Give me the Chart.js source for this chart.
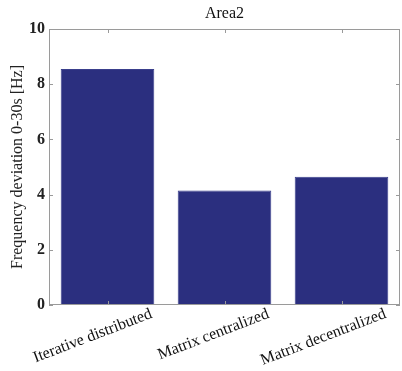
<!DOCTYPE html>
<html>
<head>
<meta charset="utf-8">
<script src="https://cdn.jsdelivr.net/npm/chart.js@4/dist/chart.umd.min.js"></script>
<style>
  html, body { margin: 0; padding: 0; background: #fff; }
  #wrap { width: 402px; height: 371px; }
</style>
</head>
<body>
<div id="wrap"><canvas id="c" width="402" height="371"></canvas></div>
<script>
// data
const categories = ['Iterative distributed', 'Matrix centralized', 'Matrix decentralized'];
const deviation = [8.55, 4.15, 4.65];
const yTicks = [0, 2, 4, 6, 8, 10];

const SERIF = '"Liberation Serif", "DejaVu Serif", serif';
const BOX = '#9a9a9a';

// MATLAB style box, inner ticks, rotated labels and title
const matlabAxes = {
  id: 'matlabAxes',
  afterDraw(chart) {
    const ctx = chart.ctx;
    const a = chart.chartArea;
    const x = chart.scales.x, y = chart.scales.y;
    ctx.save();
    ctx.strokeStyle = BOX;
    ctx.lineWidth = 1;
    ctx.strokeRect(a.left + 0.5, a.top + 0.5, a.right - a.left - 1, a.bottom - a.top - 1);

    ctx.beginPath();
    yTicks.forEach(v => {
      const py = Math.round(y.getPixelForValue(v)) + 0.5;
      ctx.moveTo(a.left, py); ctx.lineTo(a.left + 4, py);
      ctx.moveTo(a.right, py); ctx.lineTo(a.right - 4, py);
    });
    categories.forEach((c, i) => {
      const px = Math.round(x.getPixelForTick(i)) + 0.5;
      ctx.moveTo(px, a.top); ctx.lineTo(px, a.top + 4);
      ctx.moveTo(px, a.bottom); ctx.lineTo(px, a.bottom - 4);
    });
    ctx.stroke();

    // rotated category labels
    ctx.fillStyle = '#111';
    ctx.font = '16px ' + SERIF;
    ctx.textAlign = 'right';
    ctx.textBaseline = 'top';
    categories.forEach((c, i) => {
      const px = x.getPixelForTick(i) + 41;
      ctx.save();
      ctx.translate(px, a.bottom + 1);
      ctx.rotate(-21 * Math.PI / 180);
      ctx.fillText(c, 0, 0);
      ctx.restore();
    });

    // title
    ctx.textAlign = 'center';
    ctx.textBaseline = 'middle';
    ctx.font = '16px ' + SERIF;
    ctx.fillText('Area2', (a.left + a.right) / 2, 14);
    ctx.restore();
  }
};

new Chart(document.getElementById('c'), {
  type: 'bar',
  data: {
    labels: categories,
    datasets: [{
      data: deviation,
      backgroundColor: '#2b2f7f',
      borderColor: '#3a3f8c',
      borderWidth: 1,
      barPercentage: 0.8,
      categoryPercentage: 1.0
    }]
  },
  options: {
    responsive: false,
    animation: false,
    layout: { padding: { top: 29, right: 2, left: 8, bottom: 0 } },
    plugins: {
      legend: { display: false },
      tooltip: { enabled: false }
    },
    scales: {
      x: {
        grid: { display: false },
        border: { display: false },
        ticks: { display: false },
        afterFit(s) { s.height = 66; }
      },
      y: {
        min: 0,
        max: 10,
        afterBuildTicks(s) { s.ticks = yTicks.map(v => ({ value: v })); },
        grid: { display: false, drawTicks: false, tickLength: 0 },
        border: { display: false },
        ticks: {
          color: '#222',
          padding: 4,
          font: { family: SERIF, size: 16, weight: 'bold' }
        },
        title: {
          display: true,
          text: 'Frequency deviation 0-30s [Hz]',
          color: '#222',
          padding: { top: 0, bottom: 2 },
          font: { family: SERIF, size: 16 }
        },
        afterFit(s) { s.width = 41; }
      }
    }
  },
  plugins: [matlabAxes]
});
</script>
</body>
</html>
